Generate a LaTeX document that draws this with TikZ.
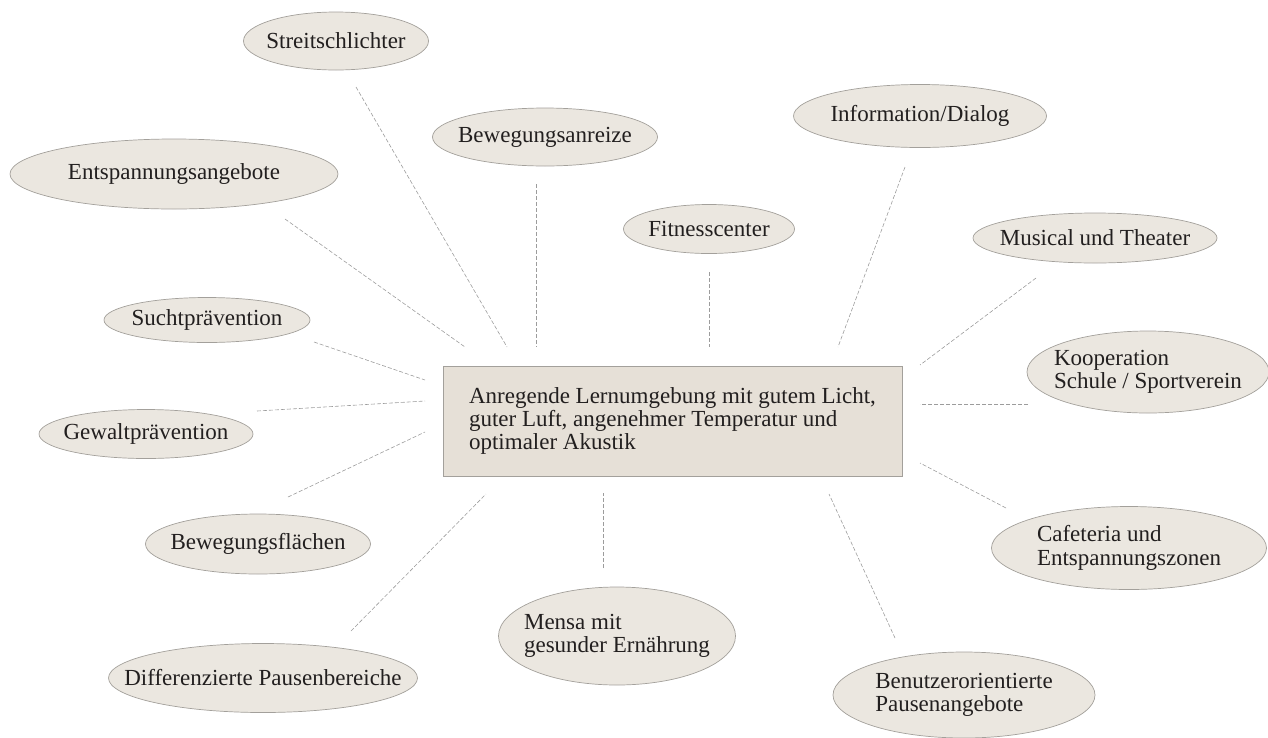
\documentclass[tikz,border=0pt]{standalone}
\usepackage{fontspec}
\setmainfont{Liberation Serif}
\usetikzlibrary{shapes.geometric}
\definecolor{bubble}{HTML}{EBE7E0}
\definecolor{hubfill}{HTML}{E6E0D7}
\definecolor{rim}{HTML}{A3A09B}
\definecolor{ink}{HTML}{221F1F}
\definecolor{dashgray}{HTML}{9C9C9C}
\tikzset{
  idea/.style={ellipse, draw=rim, fill=bubble, line width=0.7pt,
    inner xsep=-80pt, inner ysep=0pt, text=ink, align=left,
    font=\fontsize{23}{23.3}\selectfont},
  hub/.style={rectangle, draw=rim, fill=hubfill, line width=0.7pt,
    minimum width=459, minimum height=110, inner sep=0pt, text=ink,
    align=left, font=\fontsize{23}{23.3}\selectfont},
  link/.style={draw=dashgray, line width=0.6pt, dash pattern=on 4pt off 2pt}
}
\begin{document}
\begin{tikzpicture}[x=1pt,y=-1pt]
\useasboundingbox (0,0) rectangle (1268,737);

% centre
\node[hub] (hub) at (672.5,421) {Anregende Lernumgebung mit gutem Licht,\\guter Luft, angenehmer Temperatur und\\optimaler Akustik};

% bubbles, top row first
\node[idea, minimum width=185, minimum height=58] (streit) at (336,41) {Streitschlichter};
\node[idea, minimum width=225, minimum height=58] (anreiz) at (545,137) {Bewegungsanreize};
\node[idea, minimum width=253, minimum height=63] (info) at (920,116) {Information/Dialog};
\node[idea, minimum width=328, minimum height=70] (entsp) at (174,174) {Entspannungsangebote};
\node[idea, minimum width=171, minimum height=49] (fitness) at (709,229) {Fitnesscenter};
\node[idea, minimum width=244, minimum height=50] (musical) at (1095,238) {Musical und Theater};
\node[idea, minimum width=206, minimum height=45] (sucht) at (207,320) {Suchtprävention};
\node[idea, minimum width=242, minimum height=82] (koop) at (1148,372) {Kooperation\\Schule / Sportverein};
\node[idea, minimum width=214, minimum height=49] (gewalt) at (146,434) {Gewaltprävention};
\node[idea, minimum width=225, minimum height=60] (flaechen) at (258,544) {Bewegungsflächen};
\node[idea, minimum width=275, minimum height=83] (cafe) at (1129,548) {Cafeteria und\\Entspannungszonen};
\node[idea, minimum width=237, minimum height=98] (mensa) at (617,636) {Mensa mit\\gesunder Ernährung};
\node[idea, minimum width=309, minimum height=69] (pausen) at (263,678) {Differenzierte Pausenbereiche};
\node[idea, minimum width=262, minimum height=86] (benutzer) at (964,695) {Benutzerorientierte\\Pausenangebote};

% loose ends of the dashed spokes
\coordinate (streit-out) at (356,87);    \coordinate (streit-in) at (507,347);
\coordinate (anreiz-out) at (536,184);   \coordinate (anreiz-in) at (536,347);
\coordinate (fitness-out) at (709,272);  \coordinate (fitness-in) at (709,347);
\coordinate (info-out) at (905,167);     \coordinate (info-in) at (838,347);
\coordinate (entsp-out) at (285,219);    \coordinate (entsp-in) at (465,347);
\coordinate (musical-out) at (1036,278); \coordinate (musical-in) at (920,365);
\coordinate (sucht-out) at (314,342);    \coordinate (sucht-in) at (425,380);
\coordinate (gewalt-out) at (257,411);   \coordinate (gewalt-in) at (425,401);
\coordinate (flaechen-out) at (288,497); \coordinate (flaechen-in) at (425,432);
\coordinate (koop-out) at (1028,404);    \coordinate (koop-in) at (920,404);
\coordinate (cafe-out) at (1006,508);    \coordinate (cafe-in) at (920,463);
\coordinate (pausen-out) at (351,631);   \coordinate (pausen-in) at (486,494);
\coordinate (mensa-out) at (603,568);    \coordinate (mensa-in) at (603,493);
\coordinate (benutzer-out) at (895,638); \coordinate (benutzer-in) at (829,494);

\foreach \n in {streit,anreiz,fitness,info,entsp,musical,sucht,gewalt,flaechen,koop,cafe,pausen,mensa,benutzer}
  \draw[link] (\n-out) -- (\n-in);
\end{tikzpicture}
\end{document}
